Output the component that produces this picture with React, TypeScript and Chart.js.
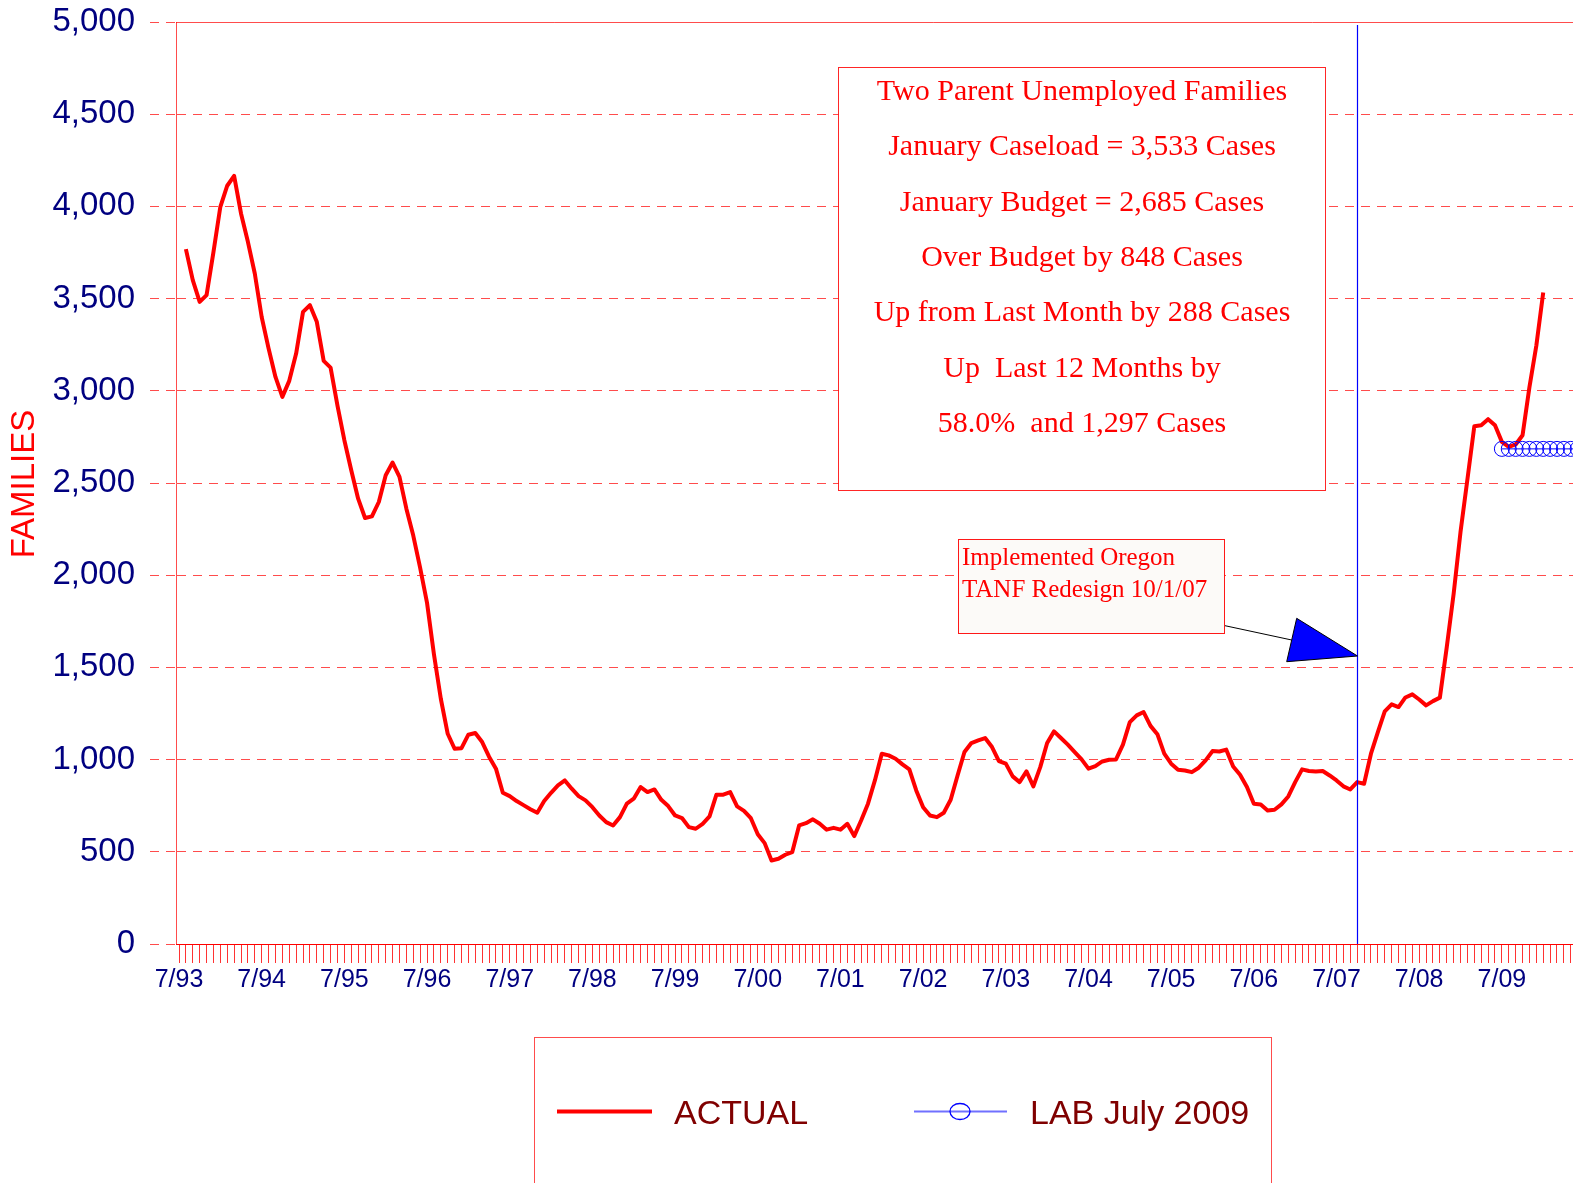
import React, { useEffect, useRef } from 'react';
import { Chart, registerables } from 'chart.js';

Chart.register(...registerables);

// ---------- data ----------
// month index 0 = July 1993
const TICK_LABELS = ['7/93', '7/94', '7/95', '7/96', '7/97', '7/98', '7/99', '7/00', '7/01', '7/02', '7/03', '7/04', '7/05', '7/06', '7/07', '7/08', '7/09'];
const MONTHS_PER_LABEL = 12;

const ACTUAL_START = 1; // August 1993
const ACTUAL = [
  3768, 3600, 3482, 3519, 3752, 3998, 4112, 4166, 3962, 3808,
  3636, 3400, 3230, 3075, 2967, 3054, 3202, 3428, 3464, 3374,
  3162, 3126, 2920, 2732, 2569, 2415, 2310, 2319, 2397, 2542,
  2611, 2533, 2361, 2215, 2040, 1850, 1571, 1330, 1140, 1059,
  1062, 1135, 1144, 1095, 1016, 951, 820, 802, 775, 753,
  731, 712, 775, 820, 860, 887, 842, 802, 779, 742,
  697, 661, 643, 688, 761, 788, 851, 824, 838, 782,
  748, 697, 683, 634, 625, 652, 692, 810, 810, 824,
  746, 722, 682, 595, 547, 453, 462, 484, 498, 643,
  655, 676, 652, 620, 630, 620, 652, 585, 670, 761,
  887, 1032, 1023, 1005, 974, 947, 833, 742, 697, 688,
  712, 782, 914, 1041, 1090, 1104, 1117, 1068, 992, 978,
  909, 878, 936, 855, 959, 1090, 1153, 1117, 1081, 1041,
  1001, 951, 965, 990, 999, 1001, 1081, 1203, 1240, 1258,
  1183, 1138, 1032, 978, 945, 941, 932, 956, 996, 1046,
  1044, 1054, 963, 918, 851, 761, 757, 724, 728, 757,
  800, 878, 947, 938, 936, 938, 914, 887, 855, 838,
  878, 869, 1032, 1149, 1262, 1300, 1285, 1337, 1354, 1326,
  1294, 1317, 1336, 1610, 1900, 2236, 2520, 2808, 2813, 2846,
  2813, 2723, 2696, 2709, 2759, 3020, 3245, 3533,
];

const LAB_START = 192; // July 2009
const LAB = [
  2685, 2685, 2685, 2685, 2685, 2685, 2685, 2685, 2685, 2685, 2685, 2685,
  2685, 2685, 2685, 2685, 2685, 2685, 2685, 2685, 2685, 2685, 2685, 2685,
];

const Y_MIN = 0;
const Y_MAX = 5000;
const Y_STEP = 500;

const REDESIGN_MONTH = 171; // October 2007

const SERIES_NAMES = ['ACTUAL', 'LAB July 2009'];
const AXIS_TITLE = 'FAMILIES';
const INFO_LINES = [
  'Two Parent Unemployed Families',
  'January Caseload = 3,533 Cases',
  'January Budget = 2,685 Cases',
  'Over Budget by 848 Cases',
  'Up from Last Month by 288 Cases',
  'Up  Last 12 Months by',
  '58.0%  and 1,297 Cases',
];
const NOTE_LINES = ['Implemented Oregon', 'TANF Redesign 10/1/07'];

// ---------- layout ----------
const W = 1573;
const H = 1183;
const CANVAS_W = 1700;
const PLOT_LEFT = 176;
const PLOT_TOP = 22;
const PLOT_BOTTOM = 944;
const X_AXIS_H = 60;
const MONTH_PX = 6.89;
const X_MIN = -3 / MONTH_PX;
const X_MAX_GUESS = X_MIN + (CANVAS_W - PLOT_LEFT) / MONTH_PX;

const SANS = "'Liberation Sans', Arial, Helvetica, sans-serif";
const SERIF = "'Liberation Serif', 'Times New Roman', Times, serif";
const NAVY = '#000080';
const GRID_RED = 'rgba(255,0,0,0.7)';

const decor = {
  id: 'decor',
  beforeDatasetsDraw(chart: any) {
    const { ctx, chartArea: a } = chart;
    ctx.save();
    // top border of plot
    ctx.fillStyle = '#ffffff';
    ctx.fillRect(a.left + 1, a.top - 1, a.right - a.left, 3);
    ctx.strokeStyle = 'rgba(255,0,0,0.7)';
    ctx.lineWidth = 1;
    ctx.beginPath();
    ctx.moveTo(a.left, a.top + 0.5);
    ctx.lineTo(a.right, a.top + 0.5);
    ctx.stroke();

    // info box
    ctx.fillStyle = '#ffffff';
    ctx.fillRect(838.5, 67.5, 487, 423);
    ctx.strokeStyle = 'rgba(255,0,0,0.85)';
    ctx.strokeRect(838.5, 67.5, 487, 423);
    ctx.fillStyle = '#ff0000';
    ctx.font = `30px ${SERIF}`;
    ctx.textAlign = 'center';
    ctx.textBaseline = 'alphabetic';
    INFO_LINES.forEach((t, i) => ctx.fillText(t, 1082, 100 + i * 55.3));

    // note box
    ctx.fillStyle = '#fcfaf8';
    ctx.fillRect(958.5, 539.5, 266, 94);
    ctx.strokeStyle = 'rgba(255,0,0,0.9)';
    ctx.strokeRect(958.5, 539.5, 266, 94);
    ctx.fillStyle = '#ff0000';
    ctx.font = `25px ${SERIF}`;
    ctx.textAlign = 'left';
    NOTE_LINES.forEach((t, i) => ctx.fillText(t, 962, 565 + i * 31.7));
    ctx.restore();
  },
  afterDatasetsDraw(chart: any) {
    const { ctx, chartArea: a, scales } = chart;
    const bx = Math.round(scales.x.getPixelForValue(REDESIGN_MONTH)) + 0.5;
    ctx.save();
    ctx.strokeStyle = '#0000ff';
    ctx.lineWidth = 1.2;
    ctx.beginPath();
    ctx.moveTo(bx, a.top + 3);
    ctx.lineTo(bx, a.bottom);
    ctx.stroke();

    // arrow
    ctx.strokeStyle = '#000000';
    ctx.lineWidth = 1;
    ctx.beginPath();
    ctx.moveTo(1225, 625.7);
    ctx.lineTo(1291.7, 640);
    ctx.stroke();
    ctx.beginPath();
    ctx.moveTo(1296.7, 618.3);
    ctx.lineTo(1286.7, 661.7);
    ctx.lineTo(bx, 656);
    ctx.closePath();
    ctx.fillStyle = '#0000ff';
    ctx.fill();
    ctx.stroke();
    ctx.restore();
  },
  afterDraw(chart: any) {
    const { ctx } = chart;
    ctx.save();
    // axis title
    ctx.translate(25, 484);
    ctx.rotate(-Math.PI / 2);
    ctx.fillStyle = '#ff0000';
    ctx.font = `33px ${SANS}`;
    ctx.textAlign = 'center';
    ctx.textBaseline = 'middle';
    ctx.fillText(AXIS_TITLE, 0, 0);
    ctx.restore();

    // legend
    ctx.save();
    ctx.strokeStyle = 'rgba(255,0,0,0.7)';
    ctx.lineWidth = 1;
    ctx.strokeRect(534.5, 1037.5, 737, 300);
    ctx.strokeStyle = '#ff0000';
    ctx.lineWidth = 4;
    ctx.beginPath();
    ctx.moveTo(557, 1111.5);
    ctx.lineTo(652, 1111.5);
    ctx.stroke();
    ctx.strokeStyle = '#7070ff';
    ctx.lineWidth = 2;
    ctx.beginPath();
    ctx.moveTo(914, 1111.5);
    ctx.lineTo(1007, 1111.5);
    ctx.stroke();
    ctx.strokeStyle = '#0000ff';
    ctx.lineWidth = 1.3;
    ctx.beginPath();
    ctx.ellipse(960, 1111.5, 10, 8, 0, 0, Math.PI * 2);
    ctx.stroke();
    ctx.fillStyle = '#800000';
    ctx.font = `34px ${SANS}`;
    ctx.textAlign = 'left';
    ctx.textBaseline = 'alphabetic';
    ctx.fillText(SERIES_NAMES[0], 674, 1124);
    ctx.fillText(SERIES_NAMES[1], 1030, 1124);
    ctx.restore();
  },
};

export default function App() {
  const ref = useRef<HTMLCanvasElement>(null);

  useEffect(() => {
    document.body.style.margin = '0';
    const canvas = ref.current;
    if (!canvas) return;

    const monthTicks: { value: number }[] = [];
    for (let m = 0; m <= Math.floor(X_MAX_GUESS) + 5; m++) monthTicks.push({ value: m });

    const chart = new Chart(canvas, {
      type: 'line',
      data: {
        datasets: [
          {
            label: SERIES_NAMES[1],
            data: LAB.map((y, i) => ({ x: LAB_START + i, y })),
            borderColor: '#0000ff',
            borderWidth: 1,
            pointRadius: 7.5,
            pointStyle: 'circle',
            pointBorderColor: '#0000ff',
            pointBackgroundColor: 'rgba(0,0,0,0)',
            pointBorderWidth: 1,
            tension: 0,
            order: 0,
          },
          {
            label: SERIES_NAMES[0],
            data: ACTUAL.map((y, i) => ({ x: ACTUAL_START + i, y })),
            borderColor: '#ff0000',
            borderWidth: 4,
            borderJoinStyle: 'round',
            pointRadius: 0,
            tension: 0,
            order: 1,
          },
        ],
      },
      options: {
        responsive: false,
        animation: false,
        devicePixelRatio: 1,
        events: [],
        layout: { padding: { left: 0, right: 0, top: PLOT_TOP, bottom: H - PLOT_BOTTOM - X_AXIS_H } },
        plugins: { legend: { display: false }, tooltip: { enabled: false } },
        scales: {
          x: {
            type: 'linear',
            min: X_MIN,
            max: X_MAX_GUESS,
            afterBuildTicks: (scale: any) => {
              scale.ticks = monthTicks.filter((t) => t.value <= scale.max).map((t) => ({ value: t.value }));
            },
            afterFit: (scale: any) => {
              scale.height = X_AXIS_H;
              scale.paddingLeft = 0;
              scale.paddingRight = 0;
            },
            ticks: {
              autoSkip: false,
              maxRotation: 0,
              minRotation: 0,
              padding: 2,
              color: NAVY,
              font: { family: SANS, size: 25 },
              callback: (v: any) => {
                const n = Number(v);
                if (n % MONTHS_PER_LABEL !== 0) return '';
                return TICK_LABELS[n / MONTHS_PER_LABEL] ?? '';
              },
            },
            grid: {
              drawOnChartArea: false,
              drawTicks: true,
              tickLength: 19,
              color: 'rgba(255,0,0,0.8)',
              lineWidth: 1,
            },
            border: { display: true, color: '#ff0000', width: 1 },
          },
          y: {
            type: 'linear',
            min: Y_MIN,
            max: Y_MAX,
            afterFit: (scale: any) => {
              scale.width = PLOT_LEFT;
              scale.paddingTop = 0;
              scale.paddingBottom = 0;
            },
            ticks: {
              stepSize: Y_STEP,
              padding: 15,
              color: NAVY,
              font: { family: SANS, size: 33 },
              callback: (v: any) => Number(v).toLocaleString('en-US'),
            },
            grid: {
              color: GRID_RED,
              lineWidth: 1,
              drawTicks: true,
              tickLength: 26,
              tickColor: GRID_RED,
              tickBorderDash: [9, 7],
            },
            border: { display: true, color: GRID_RED, width: 1, dash: [9, 7] },
          },
        },
      },
      plugins: [decor],
    } as any);

    // second pass: set the month range so one month spans MONTH_PX in the real plot area
    const area = chart.chartArea;
    const xMin = X_MIN - (area.left - PLOT_LEFT) / MONTH_PX;
    (chart.options as any).scales.x.min = xMin;
    (chart.options as any).scales.x.max = xMin + (area.right - area.left) / MONTH_PX;
    chart.update();

    return () => chart.destroy();
  }, []);

  return (
    <div style={{ position: 'relative', width: W, height: H, overflow: 'hidden', background: '#ffffff' }}>
      <canvas ref={ref} width={CANVAS_W} height={H} style={{ display: 'block', width: CANVAS_W, height: H }} />
    </div>
  );
}
